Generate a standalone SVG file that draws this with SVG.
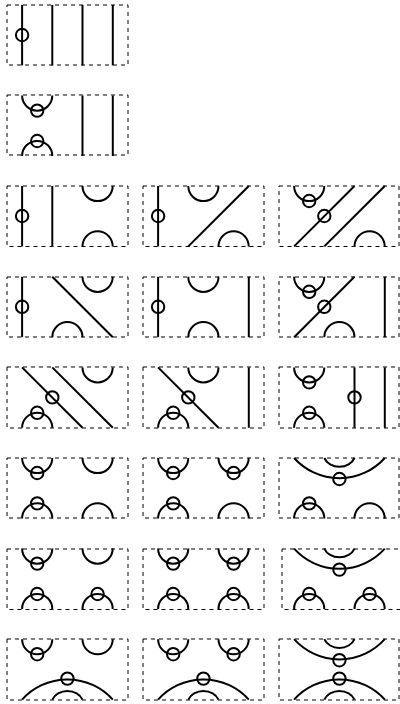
<svg xmlns="http://www.w3.org/2000/svg" width="400" height="704" viewBox="0 0 400 704">
<style>
.s,.s path,.s circle{fill:none;stroke:#000;stroke-width:2}
.s .b{fill:none;stroke:#000;stroke-width:1;stroke-dasharray:4 4}
</style>
<defs>
<path id="u" d="M0 0A15.1 15.1 0 0 0 30.2 0"/>
<path id="n" d="M0 0A15.1 15.1 0 0 1 30.2 0"/>
<path id="U" d="M15.1 0A61 61 0 0 0 105.8 0M45.3 0A16 13 0 0 0 75.5 0"/>
<path id="N" d="M15.1 60.4A61 61 0 0 1 105.8 60.4M45.3 60.4A16 13 0 0 1 75.5 60.4"/>
<circle id="o" r="6.2"/>
<g id="A"><use href="#u" x="15.1"/><use href="#o" x="30.2" y="15"/></g>
<g id="B"><use href="#n" x="15.1" y="60.4"/><use href="#o" x="30.2" y="45.4"/></g>
<g id="C"><use href="#u" x="75.5"/><use href="#o" x="90.6" y="15"/></g>
<g id="D"><use href="#n" x="75.5" y="60.4"/><use href="#o" x="90.6" y="45.4"/></g>
<path id="V1" d="M15.1 0V60.4"/>
<path id="V2" d="M45.3 0V60.4"/>
<path id="V3" d="M75.5 0V60.4"/>
<path id="V4" d="M105.8 0V60.4"/>
<path id="R1" d="M15.1 60.4L75.5 0"/>
<path id="R2" d="M45.3 60.4L105.8 0"/>
<path id="L1" d="M15.1 0L75.5 60.4"/>
<path id="L2" d="M45.3 0L105.8 60.4"/>
</defs>
<g id="p1" class="s" transform="translate(7 5)"><rect class="b" width="121" height="60"/><use href="#V1"/><use href="#o" x="15.1" y="30"/><use href="#V2"/><use href="#V3"/><use href="#V4"/></g>
<g id="p2" class="s" transform="translate(7 95.6)"><rect class="b" y="-.6" width="121" height="60"/><use href="#A"/><use href="#B"/><use href="#V3"/><use href="#V4"/></g>
<g id="p3" class="s" transform="translate(7 186)"><rect class="b" width="121" height="60.5"/><use href="#V1"/><use href="#o" x="15.1" y="30"/><use href="#V2"/><use href="#u" x="75.5"/><use href="#n" x="75.5" y="60.4"/></g>
<g id="p4" class="s" transform="translate(143 186)"><rect class="b" width="121" height="60.5"/><use href="#V1"/><use href="#o" x="15.1" y="30"/><use href="#R2"/><use href="#u" x="45.3"/><use href="#n" x="75.5" y="60.4"/></g>
<g id="p5" class="s" transform="translate(279 186)"><rect class="b" width="120" height="60.5"/><use href="#A"/><use href="#R1"/><use href="#o" x="45.3" y="30"/><use href="#R2"/><use href="#n" x="75.5" y="60.4"/></g>
<g id="p6" class="s" transform="translate(7 276.8)"><rect class="b" y=".2" width="121" height="60"/><use href="#V1"/><use href="#o" x="15.1" y="30"/><use href="#L2"/><use href="#u" x="75.5"/><use href="#n" x="45.3" y="60.4"/></g>
<g id="p7" class="s" transform="translate(143 276.8)"><rect class="b" y=".2" width="121" height="60"/><use href="#V1"/><use href="#o" x="15.1" y="30"/><use href="#u" x="45.3"/><use href="#n" x="45.3" y="60.4"/><use href="#V4"/></g>
<g id="p8" class="s" transform="translate(279 276.8)"><rect class="b" y=".2" width="120" height="60"/><use href="#A"/><use href="#R1"/><use href="#o" x="45.3" y="30"/><use href="#n" x="45.3" y="60.4"/><use href="#V4"/></g>
<g id="p9" class="s" transform="translate(7 367.4)"><rect class="b" y="-.4" width="121" height="61"/><use href="#L1"/><use href="#o" x="45.3" y="30"/><use href="#L2"/><use href="#u" x="75.5"/><use href="#B"/></g>
<g id="p10" class="s" transform="translate(143 367.4)"><rect class="b" y="-.4" width="121" height="61"/><use href="#L1"/><use href="#o" x="45.3" y="30"/><use href="#u" x="45.3"/><use href="#B"/><use href="#V4"/></g>
<g id="p11" class="s" transform="translate(279 367.4)"><rect class="b" y="-.4" width="120" height="61"/><use href="#A"/><use href="#B"/><use href="#V3"/><use href="#o" x="75.5" y="30"/><use href="#V4"/></g>
<g id="p12" class="s" transform="translate(7 458)"><rect class="b" width="121" height="60"/><use href="#A"/><use href="#B"/><use href="#u" x="75.5"/><use href="#n" x="75.5" y="60.4"/></g>
<g id="p13" class="s" transform="translate(143 458)"><rect class="b" width="121" height="60"/><use href="#A"/><use href="#B"/><use href="#C"/><use href="#n" x="75.5" y="60.4"/></g>
<g id="p14" class="s" transform="translate(279 458)"><rect class="b" width="120" height="60"/><use href="#U"/><use href="#o" x="60.4" y="21"/><use href="#B"/><use href="#n" x="75.5" y="60.4"/></g>
<g id="p15" class="s" transform="translate(7 548.6)"><rect class="b" y=".4" width="121" height="60.5"/><use href="#A"/><use href="#B"/><use href="#u" x="75.5"/><use href="#D"/></g>
<g id="p16" class="s" transform="translate(143 548.6)"><rect class="b" y=".4" width="121" height="60.5"/><use href="#A"/><use href="#B"/><use href="#C"/><use href="#D"/></g>
<g id="p17" class="s" transform="translate(279 548.6)"><rect class="b" x="3" y=".4" width="121" height="60.5"/><use href="#U"/><use href="#o" x="60.4" y="21"/><use href="#B"/><use href="#D"/></g>
<g id="p18" class="s" transform="translate(7 639.2)"><rect class="b" y="-.2" width="121" height="61"/><use href="#A"/><use href="#u" x="75.5"/><use href="#N"/><use href="#o" x="60.4" y="39.4"/></g>
<g id="p19" class="s" transform="translate(143 639.2)"><rect class="b" y="-.2" width="121" height="61"/><use href="#A"/><use href="#C"/><use href="#N"/><use href="#o" x="60.4" y="39.4"/></g>
<g id="p20" class="s" transform="translate(279 639.2)"><rect class="b" y="-.2" width="120" height="61"/><use href="#U"/><use href="#o" x="60.4" y="21"/><use href="#N"/><use href="#o" x="60.4" y="39.4"/></g>
</svg>
